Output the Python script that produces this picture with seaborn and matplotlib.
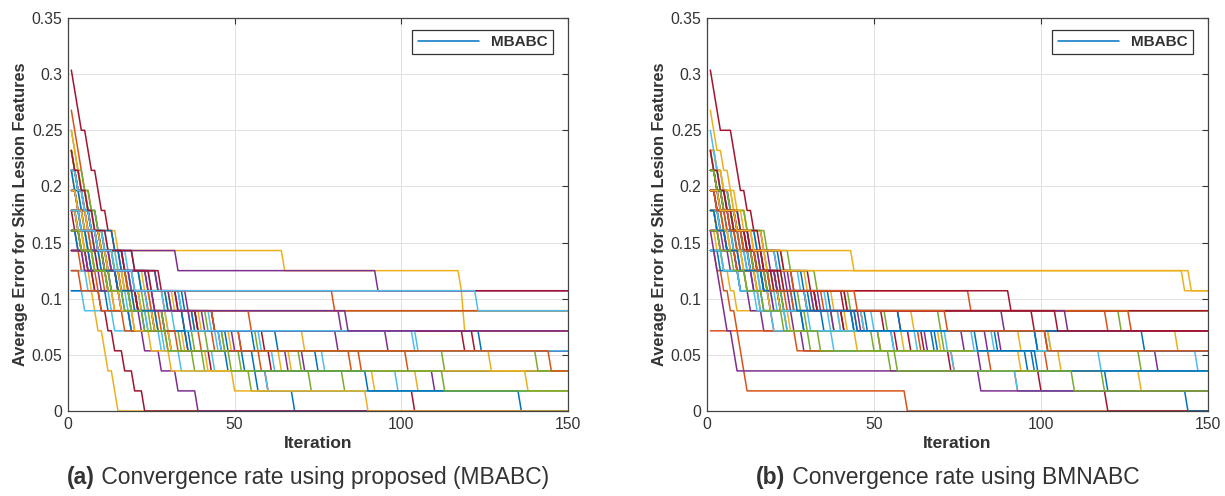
import numpy as np
import pandas as pd
import matplotlib
matplotlib.use("Agg")
import matplotlib.pyplot as plt
import seaborn as sns

# ---------------- data ----------------
# quantised error levels (index 0..17)
levels = [0.0, 0.0179, 0.0357, 0.0536, 0.0714, 0.0893, 0.1071, 0.125, 0.1429,
          0.1607, 0.1786, 0.1964, 0.2143, 0.2321, 0.25, 0.2679, 0.2857, 0.3036]
iterations = list(range(1, 151))

# panel (a): start level index of each run and the iterations where it drops one level
a_start = [12, 15, 11, 13, 9, 10, 17, 11, 8, 12,
           10, 9, 11, 8, 12, 9, 10, 11, 8, 9,
           10, 12, 7, 13, 9, 14, 6, 10, 11, 8,
           9, 12, 13, 7, 12, 9, 11, 14, 8, 10,
           12, 9, 6, 10, 11, 8, 9, 12, 13, 10,
           7, 10, 10, 9, 10]
a_drops = [
    [3, 5, 7, 10, 13, 17, 22, 29, 37, 48, 57, 68],
    [2, 3, 4, 5, 7, 8, 10, 12, 15, 19, 26, 40, 85],
    [4, 9, 15, 65, 118, 119, 119],
    [2, 4, 6, 7, 9, 33, 93],
    [4, 8, 13, 20, 27, 34, 41, 55],
    [3, 6, 9, 13, 18, 30, 104],
    [2, 3, 4, 6, 7, 9, 10, 12, 14, 17, 20, 24, 29, 36, 43, 60, 104],
    [3, 6, 10, 14, 19, 34],
    [5, 11, 19, 28, 44, 88],
    [2, 3, 4, 5, 6, 7, 8, 9, 11, 12, 14, 15],
    [4, 9, 16, 24, 33, 41, 52, 66],
    [6, 14, 22, 31, 38, 47, 70],
    [3, 7, 12, 18, 25, 34, 43, 58, 77],
    [7, 16, 26, 35, 46, 61],
    [3, 6, 9, 14, 20, 27, 35, 44, 56, 75],
    [5, 11, 18, 29, 39, 52, 102],
    [4, 8, 15, 23, 32, 40, 49, 64, 92],
    [3, 6, 11, 17, 24, 31, 39, 50, 71, 110],
    [8, 18, 30, 42, 57],
    [6, 12, 20, 29, 37, 46],
    [5, 10, 17, 25, 33, 44, 59],
    [2, 4, 7, 11, 16, 22, 30, 38, 48],
    [8, 21, 55],
    [2, 4, 6, 8, 10, 13, 17, 22, 27, 35, 67, 105],
    [3, 11, 27, 36, 82],
    [2, 3, 5, 7, 9, 11, 14, 18, 23, 29, 38, 52, 73],
    [5, 14, 45, 62],
    [2, 4, 6, 8, 10, 12, 14, 17, 20, 23],
    [3, 5, 8, 11, 15, 21, 35, 124],
    [4, 9, 14, 20, 30, 58],
    [5, 10, 17, 25],
    [3, 5, 7, 9, 11, 13, 16, 19, 23, 28, 33, 39],
    [2, 3, 5, 7, 9, 12, 15, 19, 26, 47, 113],
    [6, 13, 19, 28, 44, 99],
    [3, 5, 7, 9, 12, 16, 21, 39, 119],
    [3, 7, 12, 17, 23, 31, 53],
    [3, 6, 9, 13, 18, 25, 44],
    [2, 3, 4, 5, 6, 8, 10, 12, 14, 30, 71, 127],
    [6, 12, 21, 37, 81],
    [4, 7, 11, 15, 19, 24, 31, 38, 83],
    [3, 5, 7, 9, 12, 15, 19, 24, 29, 34, 60],
    [4, 9, 15, 21, 26, 122],
    [12, 19, 63],
    [3, 7, 12, 18, 80],
    [3, 5, 8, 12, 16, 20, 26, 31, 42, 138],
    [5, 10, 16, 22, 96],
    [4, 8, 13, 19, 25, 42, 141],
    [3, 5, 8, 11, 15, 19, 24, 32, 105],
    [2, 4, 6, 8, 12, 20, 28],
    [3, 6, 10, 15, 20, 27, 36, 56, 90, 136],
    [4, 10, 17, 33, 145],
    [3, 5, 8, 12, 16, 20, 25, 31, 50, 90],
    [4, 8, 13, 19, 26, 84],
    [4, 8, 12, 17, 23, 30, 49, 113],
    [4, 9, 14, 20, 123],
]

# panel (b)
b_start = [13, 8, 9, 10, 11, 12, 17, 13, 4, 15,
           11, 10, 12, 9, 11, 10, 13, 9, 12, 10,
           11, 8, 10, 13, 12, 10, 8, 12, 11, 10,
           13, 10, 8, 14, 12, 10, 11, 10, 9, 12,
           10, 13, 8, 9, 10, 11, 12, 8, 11, 10,
           11, 11, 9, 9]
b_drops = [
    [3, 5, 7, 10, 13, 17, 21, 26, 44, 99],
    [3, 5, 7, 9, 10, 11, 12, 60],
    [3, 5, 7, 9, 24, 70, 106],
    [3, 5, 7, 10, 13, 17, 29, 82],
    [3, 5, 8, 11, 15, 19, 24, 31, 55, 119],
    [3, 5, 8, 11, 14, 18, 23, 37, 103],
    [2, 3, 4, 8, 9, 10, 12, 14, 17, 21, 26, 33, 41, 57, 73, 100, 120],
    [2, 4, 7, 9, 12, 15, 19, 23, 35, 56, 98, 120, 144],
    [52, 102],
    [2, 3, 5, 7, 9, 12, 14, 16, 20, 30, 40, 141],
    [4, 8, 13, 19, 25, 33, 47, 66],
    [5, 10, 16, 23, 30, 38, 52],
    [3, 6, 10, 15, 21, 28, 36, 50, 72],
    [6, 13, 21, 30, 41, 61],
    [4, 9, 15, 22, 29, 37, 48, 68, 96],
    [5, 11, 18, 26, 35, 45, 64, 85],
    [3, 5, 8, 12, 17, 23, 30, 38, 47, 59],
    [7, 15, 24, 34, 46, 77],
    [3, 7, 12, 18, 25, 33, 42, 54, 71],
    [4, 9, 15, 22, 30, 40, 56],
    [5, 10, 16, 23, 31, 41, 53, 65],
    [9, 19, 31, 44, 69],
    [3, 6, 9, 12, 16, 20, 27, 74, 93],
    [2, 4, 6, 9, 12, 15, 18, 22, 62, 103],
    [3, 5, 8, 11, 14, 18, 25, 89],
    [4, 8, 14, 20, 32, 124],
    [5, 10, 15, 20, 38, 74, 93],
    [3, 5, 7, 10, 13, 17, 22, 58, 102],
    [3, 6, 9, 13, 17, 22, 58, 99],
    [4, 9, 14, 21, 79],
    [3, 5, 8, 11, 14, 18, 143],
    [3, 6, 10, 14, 19, 26, 88, 135],
    [5, 12, 28, 70],
    [2, 3, 4, 6, 8, 10, 13, 16, 20, 24, 86, 147],
    [3, 6, 9, 13, 17, 22, 33, 98],
    [4, 8, 12, 17, 22, 29, 87],
    [3, 6, 10, 14, 18, 24, 120],
    [3, 7, 11, 16, 22, 42, 94],
    [4, 9, 14, 20, 38, 84],
    [3, 5, 8, 11, 15, 19, 43],
    [4, 8, 12, 16, 21, 47, 63],
    [2, 4, 6, 9, 12, 15, 20, 91],
    [4, 10, 17, 29, 131],
    [4, 9, 15, 26, 127],
    [3, 7, 11, 15, 19, 25, 45, 94, 130],
    [3, 7, 11, 16, 21, 32, 108],
    [3, 5, 8, 11, 14, 18, 23, 30, 50, 130],
    [5, 10, 16, 31, 80, 118],
    [4, 8, 12, 17, 23, 42, 105],
    [3, 6, 10, 17, 27, 45, 81, 99],
    [3, 7, 11, 15, 19, 45, 72, 102],
    [4, 9, 14, 44, 145],
    [2, 3, 4, 5, 6, 8, 9, 82],
    [4, 8, 12, 17, 23, 34, 57, 110],
]

legend_label = "MBABC"
captions = [("(a)", " Convergence rate using proposed (MBABC)"),
            ("(b)", " Convergence rate using BMNABC")]
x_label = "Iteration"
y_label = "Average Error for Skin Lesion Features"
x_ticks = [0, 50, 100, 150]
y_ticks = [0, 0.05, 0.1, 0.15, 0.2, 0.25, 0.3, 0.35]
y_tick_labels = ["0", "0.05", "0.1", "0.15", "0.2", "0.25", "0.3", "0.35"]

matlab_colors = ["#0072BD", "#D95319", "#EDB120", "#7E2F8E",
                 "#77AC30", "#4DBEEE", "#A2142F"]


def build_frame(starts, drops):
    rows = []
    it = np.array(iterations)
    for r, (s, d) in enumerate(zip(starts, drops)):
        idx = s - np.array([(np.array(d) <= t).sum() for t in it])
        vals = np.array(levels)[idx]
        rows.append(pd.DataFrame({"run": f"r{r:02d}", "Iteration": it, "Error": vals}))
    return pd.concat(rows, ignore_index=True)


# ---------------- figure ----------------
sns.set_style("white")
plt.rcParams["font.family"] = ["Liberation Sans", "DejaVu Sans"]

TXT = "#333333"
fig = plt.figure(figsize=(12.25, 4.96), dpi=100)
W, H = 1225, 496
axes_px = [(68, 568), (707, 1208)]
top_px, bot_px = 18, 411

for k, (starts, drops) in enumerate([(a_start, a_drops), (b_start, b_drops)]):
    x0, x1 = axes_px[k]
    ax = fig.add_axes([x0 / W, 1 - bot_px / H, (x1 - x0) / W, (bot_px - top_px) / H])
    df = build_frame(starts, drops)
    order = sorted(df["run"].unique())
    pal = [matlab_colors[i % 7] for i in range(len(order))]
    sns.lineplot(data=df, x="Iteration", y="Error", hue="run", hue_order=order,
                 palette=pal, legend=False, estimator=None, sort=False,
                 linewidth=1.1, ax=ax)
    ax.set_xlim(0, 150)
    ax.set_ylim(0, 0.35)
    ax.set_xticks(x_ticks)
    ax.set_xticklabels([str(v) for v in x_ticks])
    ax.set_yticks(y_ticks)
    ax.set_yticklabels(y_tick_labels)
    ax.grid(True, color="#e0e0e0", linewidth=0.7)
    ax.set_axisbelow(True)
    ax.tick_params(direction="in", top=True, right=True, length=4, width=0.8,
                   color=TXT, labelcolor=TXT, labelsize=11.3, pad=4)
    for sp in ax.spines.values():
        sp.set_color("#444444")
        sp.set_linewidth(0.9)
    ax.set_xlabel(x_label, fontsize=12.5, fontweight="bold", color=TXT, labelpad=3)
    ax.set_ylabel(y_label, fontsize=11.8, fontweight="bold", color=TXT, labelpad=3)
    leg = ax.legend([ax.lines[0]], [legend_label], loc="upper right",
                    bbox_to_anchor=(0.97, 0.97), borderaxespad=0.0, fancybox=False,
                    framealpha=1, edgecolor="#333333",
                    prop={"weight": "bold", "size": 11},
                    handlelength=4.0, borderpad=0.35, handletextpad=0.8)
    leg.get_frame().set_linewidth(0.9)
    for t in leg.get_texts():
        t.set_color(TXT)

    cx = (x0 + x1) / 2 / W
    bold_part, rest = captions[k]
    t1 = fig.text(0, 0, bold_part, fontsize=16.5, fontweight="bold", color=TXT)
    t2 = fig.text(0, 0, rest, fontsize=16.5, color=TXT)
    fig.canvas.draw()
    r = fig.canvas.get_renderer()
    w1 = t1.get_window_extent(r).width / W
    w2 = t2.get_window_extent(r).width / W
    start = cx - (w1 + w2) / 2 - 0.008
    y = 1 - 484 / H
    t1.set_position((start, y))
    t2.set_position((start + w1, y))

fig.savefig("out.png", dpi=100)
